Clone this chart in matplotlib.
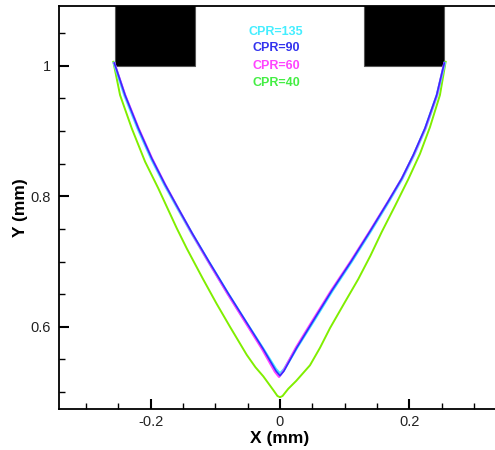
import matplotlib
matplotlib.use("Agg")
import matplotlib.pyplot as plt
from matplotlib.ticker import MultipleLocator, FixedLocator
from matplotlib.patches import Rectangle

plt.rcParams['font.family'] = ['Liberation Sans', 'DejaVu Sans']

# ---- data ----
series_names = ["CPR=135", "CPR=90", "CPR=60", "CPR=40"]

x_cpr90 = [-0.2563, -0.2398, -0.2192, -0.1985, -0.1779, -0.1573, -0.1357, -0.1100,
           -0.0800, -0.0520, -0.0260, -0.0060, 0.0, 0.0060, 0.0260, 0.0520, 0.0800,
           0.1100, 0.1392, 0.1675, 0.1883, 0.2062, 0.2243, 0.2424, 0.2542]
y_cpr90 = [1.004, 0.955, 0.904, 0.858, 0.818, 0.781, 0.743, 0.700,
           0.651, 0.607, 0.566, 0.532, 0.525, 0.532, 0.568, 0.610, 0.655,
           0.700, 0.746, 0.792, 0.827, 0.863, 0.904, 0.955, 1.004]

x_cpr135 = [-0.2568, -0.2405, -0.2200, -0.1993, -0.1787, -0.1580, -0.1364, -0.1107,
            -0.0807, -0.0527, -0.0267, -0.0065, 0.0, 0.0065, 0.0267, 0.0527, 0.0807,
            0.1107, 0.1399, 0.1682, 0.1890, 0.2070, 0.2250, 0.2430, 0.2548]
y_cpr135 = [1.004, 0.955, 0.904, 0.858, 0.818, 0.781, 0.743, 0.700,
            0.651, 0.607, 0.567, 0.535, 0.528, 0.535, 0.569, 0.610, 0.655,
            0.700, 0.746, 0.792, 0.827, 0.863, 0.904, 0.955, 1.004]

x_cpr60 = [-0.2563, -0.2395, -0.2187, -0.1980, -0.1776, -0.1573, -0.1362, -0.1110,
           -0.0815, -0.0538, -0.0280, -0.0080, -0.0015, 0.0045, 0.0245, 0.0505, 0.0787,
           0.1090, 0.1385, 0.1672, 0.1883, 0.2065, 0.2248, 0.2428, 0.2542]
y_cpr60 = [1.004, 0.955, 0.904, 0.858, 0.818, 0.781, 0.743, 0.700,
           0.651, 0.607, 0.566, 0.531, 0.523, 0.531, 0.568, 0.610, 0.655,
           0.700, 0.746, 0.792, 0.827, 0.863, 0.904, 0.955, 1.004]

x_cpr40 = [-0.2579, -0.2475, -0.2294, -0.2088, -0.1883, -0.1598, -0.1443, -0.1196,
           -0.0985, -0.0774, -0.0515, -0.0380, -0.0258, -0.0104, -0.0040, 0.0,
           0.0040, 0.0128, 0.0250, 0.0464, 0.0620, 0.0774, 0.1000, 0.1211, 0.1400,
           0.1573, 0.1779, 0.1985, 0.2166, 0.2321, 0.2475, 0.2563]
y_cpr40 = [1.006, 0.955, 0.904, 0.853, 0.812, 0.751, 0.720, 0.674,
           0.636, 0.600, 0.557, 0.538, 0.524, 0.503, 0.494, 0.492,
           0.494, 0.505, 0.517, 0.541, 0.568, 0.598, 0.637, 0.673, 0.709,
           0.745, 0.785, 0.826, 0.865, 0.906, 0.955, 1.006]

block_x = [(-0.256, -0.131), (0.130, 0.254)]
block_y0 = 1.0
block_y1 = 1.2

x_ticks = [-0.2, 0.0, 0.2]
x_ticklabels = ["-0.2", "0", "0.2"]
y_ticks = [0.6, 0.8, 1.0]
y_ticklabels = ["0.6", "0.8", "1"]

# ---- figure ----
fig = plt.figure(figsize=(4.95, 4.5), dpi=100)
ax = fig.add_axes([59/495, 1-409/450, (501-59)/495, (409-6)/450])
ax.set_xlim(-0.342, 0.342)
ax.set_ylim(0.474, 1.0915)

for (x0, x1) in block_x:
    ax.add_patch(Rectangle((x0, block_y0), x1 - x0, block_y1 - block_y0,
                           facecolor='black', edgecolor='#555555', lw=0.8, zorder=1))

ax.plot(x_cpr40, y_cpr40, color='#80ee00', lw=1.4, zorder=3)
ax.plot(x_cpr135, y_cpr135, color='#44e8ff', lw=2.0, zorder=4)
ax.plot(x_cpr60, y_cpr60, color='#ff44ff', lw=1.5, zorder=5)
ax.plot(x_cpr90, y_cpr90, color='#3030ff', lw=1.2, zorder=6)

legend_colors = ['#44eeff', '#3333ee', '#ff44ff', '#44ee44']
legend_y = [32.3, 48.3, 66.0, 82.5]
for name, c, py in zip(series_names, legend_colors, legend_y):
    fig.text(276/495, 1 - py/450, name, color=c, fontsize=9, fontweight='bold',
             ha='center', va='center')

ax.xaxis.set_major_locator(FixedLocator(x_ticks))
ax.set_xticklabels(x_ticklabels)
ax.yaxis.set_major_locator(FixedLocator(y_ticks))
ax.set_yticklabels(y_ticklabels)
ax.xaxis.set_minor_locator(MultipleLocator(0.05))
ax.yaxis.set_minor_locator(MultipleLocator(0.05))
ax.tick_params(which='both', direction='in', top=False, right=False, labelsize=10.5,
               colors='black', labelcolor='#222222')
ax.tick_params(which='major', length=7, width=1.5)
ax.tick_params(axis='y', which='major', pad=6)
ax.tick_params(axis='x', which='major', pad=4)
ax.tick_params(which='minor', length=4.3, width=1.0)
for s in ax.spines.values():
    s.set_linewidth(1.3)

ax.set_xlabel("X (mm)", fontsize=12.5, fontweight='bold', labelpad=2)
ax.set_ylabel("Y (mm)", fontsize=12.5, fontweight='bold', labelpad=2)

fig.savefig("out.png", dpi=100)
